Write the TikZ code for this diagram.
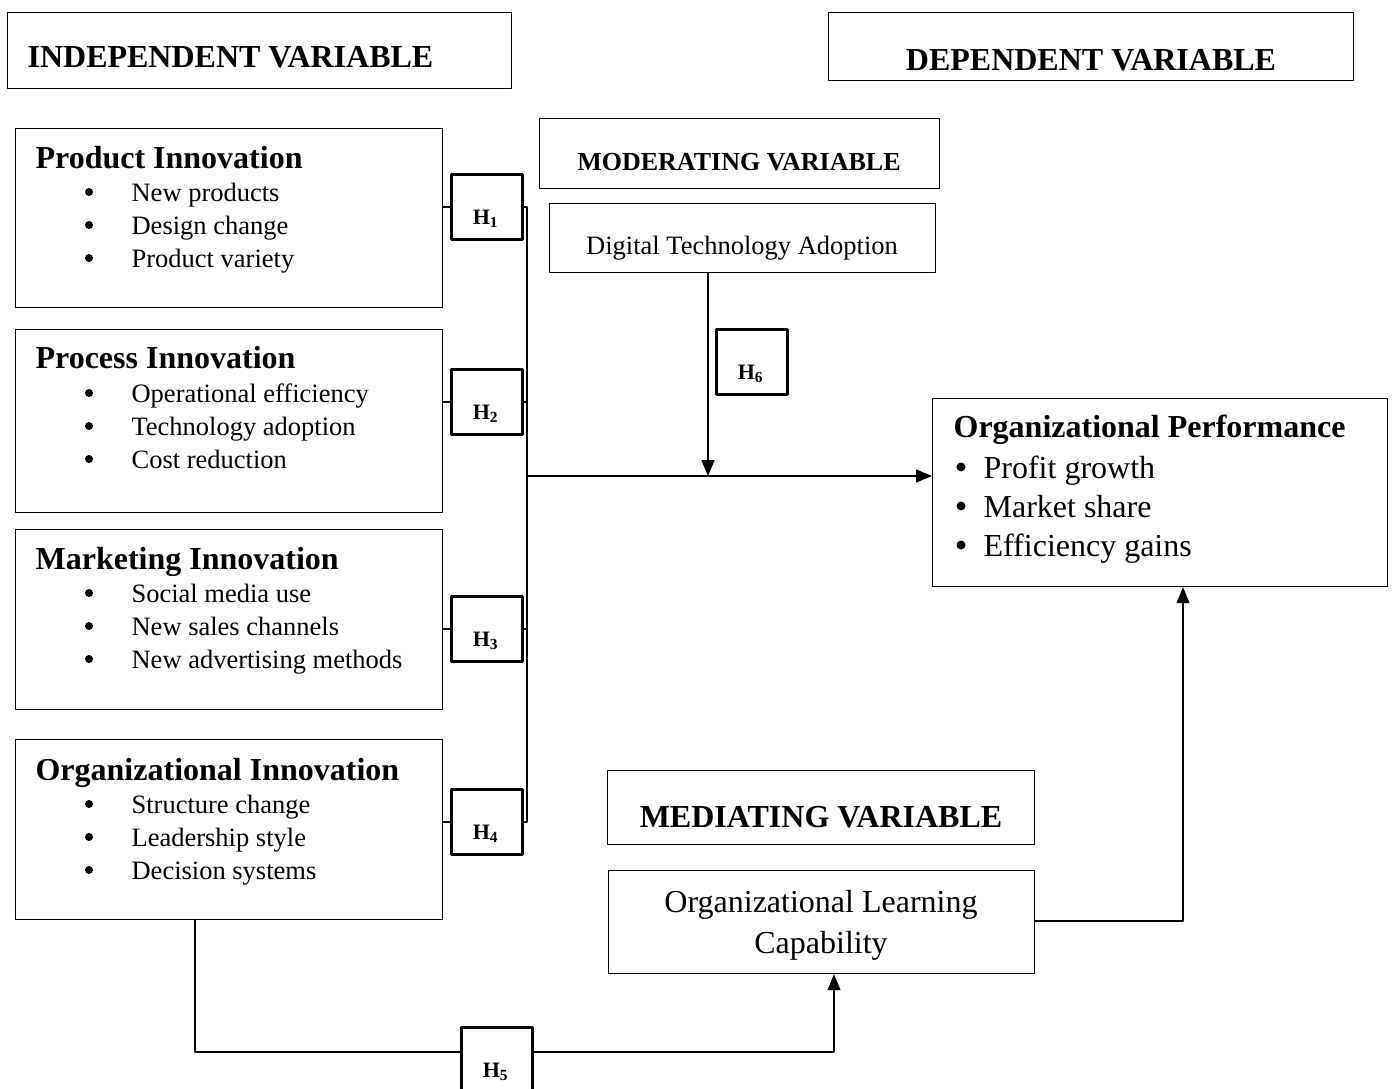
\documentclass[tikz,border=0pt]{standalone}
\usepackage{fontspec}
\setmainfont{Liberation Serif}
\usetikzlibrary{arrows.meta}

\begin{document}
\begin{tikzpicture}[
  x=1pt, y=-1pt,
  line cap=round, line join=round,
  line width=1.2pt,
  varbox/.style={draw, line width=1.2pt, inner sep=0pt, anchor=north west},
  hbox/.style={draw, line width=3pt, inner sep=0pt, anchor=north west,
    minimum width=71pt, minimum height=65pt},
  hlabel/.style={font=\fontsize{22}{26}\selectfont\bfseries, inner sep=0pt, anchor=base},
  head/.style={font=\fontsize{32}{38}\selectfont\bfseries, inner sep=0pt, anchor=base west},
  smallhead/.style={font=\fontsize{26}{31}\selectfont\bfseries, inner sep=0pt, anchor=base},
  item/.style={font=\fontsize{26.5}{32}\selectfont, inner sep=0pt, anchor=base west},
  dot/.style={circle, fill, inner sep=0pt, minimum size=8pt},
  bigdot/.style={circle, fill, inner sep=0pt, minimum size=9pt},
  bigitem/.style={font=\fontsize{32}{38}\selectfont, inner sep=0pt, anchor=base west},
  arr/.style={-{Triangle[length=16pt,width=13pt]}}
  ]
  \useasboundingbox (0,0) rectangle (1392,1089);

  % headings
  \node[varbox, minimum width=504pt, minimum height=76pt] (indep) at (7,12) {};
  \node[head] (indepT) at (27,68) {INDEPENDENT VARIABLE};
  \node[varbox, minimum width=525pt, minimum height=68pt] (dep) at (828,12) {};
  \node[head, anchor=base] (depT) at (1091,71) {DEPENDENT VARIABLE};

  % Product innovation
  \node[varbox, minimum width=427pt, minimum height=179pt] (prod) at (15,128) {};
  \node[head] (prodT) at (35,168) {Product Innovation};
  \foreach \t [count=\i] in {New products, Design change, Product variety}{
    \node[dot] (prodD\i) at (89,159+33*\i) {};
    \node[item] (prodI\i) at (131,168+33*\i) {\t};
  }

  % Process innovation
  \node[varbox, minimum width=427pt, minimum height=183pt] (proc) at (15,329) {};
  \node[head] (procT) at (35,368) {Process Innovation};
  \foreach \t [count=\i] in {Operational efficiency, Technology adoption, Cost reduction}{
    \node[dot] (procD\i) at (89,360+33*\i) {};
    \node[item] (procI\i) at (131,369+33*\i) {\t};
  }

  % Marketing innovation
  \node[varbox, minimum width=427pt, minimum height=180pt] (mark) at (15,529) {};
  \node[head] (markT) at (35,569) {Marketing Innovation};
  \foreach \t [count=\i] in {Social media use, New sales channels, New advertising methods}{
    \node[dot] (markD\i) at (89,560+33*\i) {};
    \node[item] (markI\i) at (131,569+33*\i) {\t};
  }

  % Organizational innovation
  \node[varbox, minimum width=427pt, minimum height=180pt] (orgi) at (15,739) {};
  \node[head] (orgiT) at (35,780) {Organizational Innovation};
  \foreach \t [count=\i] in {Structure change, Leadership style, Decision systems}{
    \node[dot] (orgiD\i) at (89,771+33*\i) {};
    \node[item] (orgiI\i) at (131,780+33*\i) {\t};
  }

  % hypothesis boxes
  \node[hbox] (h1) at (450,173) {};
  \node[hlabel] (h1T) at (485.5,224) {H\textsubscript{1}};
  \node[hbox] (h2) at (450,368) {};
  \node[hlabel] (h2T) at (485.5,419) {H\textsubscript{2}};
  \node[hbox] (h3) at (450,595) {};
  \node[hlabel] (h3T) at (485.5,646) {H\textsubscript{3}};
  \node[hbox] (h4) at (450,788) {};
  \node[hlabel] (h4T) at (485.5,839) {H\textsubscript{4}};
  \node[hbox] (h5) at (460,1026) {};
  \node[hlabel] (h5T) at (495.5,1077) {H\textsubscript{5}};
  \node[hbox] (h6) at (715,328) {};
  \node[hlabel] (h6T) at (750.5,379) {H\textsubscript{6}};

  % moderating
  \node[varbox, minimum width=400pt, minimum height=70pt] (moder) at (539,118) {};
  \node[smallhead] (moderT) at (739,170) {MODERATING VARIABLE};
  \node[varbox, minimum width=386pt, minimum height=69pt] (digi) at (549,203) {};
  \node[item, anchor=base] (digiT) at (742,254) {Digital Technology Adoption};

  % dependent
  \node[varbox, minimum width=455pt, minimum height=188pt] (perf) at (932,398) {};
  \node[head] (perfT) at (953,437) {Organizational Performance};
  \foreach \t [count=\i] in {Profit growth, Market share, Efficiency gains}{
    \node[bigdot] (perfD\i) at (961,428+39*\i) {};
    \node[bigitem] (perfI\i) at (983,439+39*\i) {\t};
  }

  % mediating
  \node[varbox, minimum width=427pt, minimum height=74pt] (medi) at (607,770) {};
  \node[head, anchor=base] (mediT) at (821,827) {MEDIATING VARIABLE};
  \node[varbox, minimum width=426pt, minimum height=103pt] (olc) at (608,870) {};
  \node[bigitem, anchor=base] (olcT1) at (821,912) {Organizational Learning};
  \node[bigitem, anchor=base] (olcT2) at (821,953) {Capability};

  % connectors
  \coordinate (trk) at (527,205);
  \coordinate (join) at (527,476);
  \coordinate (modtip) at (708,476);
  \coordinate (lowturn) at (195,1052);
  \coordinate (olcin) at (834,1052);
  \coordinate (perfin) at (1183,921);

  \draw (prod.east |- h1.west) -- (h1.west);
  \draw (proc.east |- h2.west) -- (h2.west);
  \draw (mark.east |- h3.west) -- (h3.west);
  \draw (orgi.east |- h4.west) -- (h4.west);
  \draw (h1.east) -- (h1.east -| trk) -- (h4.east -| trk) -- (h4.east);
  \draw (h2.east) -- (h2.east -| trk);
  \draw (h3.east) -- (h3.east -| trk);
  \draw[arr] (join) -- (join -| perf.west);
  \draw[arr] (digi.south -| modtip) -- (modtip);

  \draw (orgi.south -| lowturn) -- (lowturn) -- (lowturn -| h5.west);
  \draw[arr] (h5.east |- lowturn) -- (olcin) -- (olcin |- olc.south);
  \draw[arr] (olc.east |- perfin) -- (perfin) -- (perfin |- perf.south);
\end{tikzpicture}
\end{document}
